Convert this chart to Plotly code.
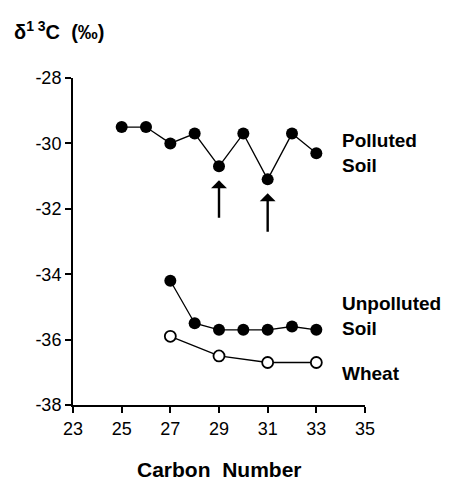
import plotly.graph_objects as go

carbon_polluted = [25, 26, 27, 28, 29, 30, 31, 32, 33]
d13c_polluted = [-29.5, -29.5, -30.0, -29.7, -30.7, -29.7, -31.1, -29.7, -30.3]

carbon_unpolluted = [27, 28, 29, 30, 31, 32, 33]
d13c_unpolluted = [-34.2, -35.5, -35.7, -35.7, -35.7, -35.6, -35.7]

carbon_wheat = [27, 29, 31, 33]
d13c_wheat = [-35.9, -36.5, -36.7, -36.7]

arrow_carbons = [29, 31]
arrow_tails = [53, 54]

x_ticks = [23, 25, 27, 29, 31, 33, 35]
y_ticks = [-38, -36, -34, -32, -30, -28]

FONT = "Liberation Sans, Arial, Helvetica, sans-serif"

fig = go.Figure()
fig.add_trace(go.Scatter(
    x=carbon_polluted, y=d13c_polluted, mode="lines+markers",
    line=dict(color="black", width=1.3),
    marker=dict(size=12, color="black"), showlegend=False))
fig.add_trace(go.Scatter(
    x=carbon_unpolluted, y=d13c_unpolluted, mode="lines+markers",
    line=dict(color="black", width=1.3),
    marker=dict(size=12, color="black"), showlegend=False))
fig.add_trace(go.Scatter(
    x=carbon_wheat, y=d13c_wheat, mode="lines+markers",
    line=dict(color="black", width=1.3),
    marker=dict(size=11, color="white", line=dict(color="black", width=1.8)),
    showlegend=False))

annotations = []
for c, tail in zip(arrow_carbons, arrow_tails):
    v = d13c_polluted[carbon_polluted.index(c)]
    annotations.append(dict(
        x=c, y=v, xref="x", yref="y", text="", showarrow=True,
        ax=0, ay=tail, arrowhead=1, arrowsize=1.1, arrowwidth=2.4,
        arrowcolor="black", standoff=14))

label_font = dict(family=FONT, size=19, color="black", weight="bold")
annotations.append(dict(
    x=carbon_polluted[-1], y=d13c_polluted[-1], xref="x", yref="y",
    text="Polluted<br>Soil", showarrow=False, xanchor="left", yanchor="middle",
    align="left", xshift=24, font=label_font))
annotations.append(dict(
    x=carbon_unpolluted[-1], y=d13c_unpolluted[-1], xref="x", yref="y",
    text="Unpolluted<br>Soil", showarrow=False, xanchor="left", yanchor="middle",
    align="left", xshift=24, yshift=14, font=label_font))
annotations.append(dict(
    x=carbon_wheat[-1], y=d13c_wheat[-1], xref="x", yref="y",
    text="Wheat", showarrow=False, xanchor="left", yanchor="middle",
    align="left", xshift=24, yshift=-11, font=label_font))
# y-axis title placed at top-left (paper coords computed from margins)
annotations.append(dict(
    x=(12 - 73) / 292, y=1 + (78 - 31) / 327, xref="paper", yref="paper",
    text="δ<sup>1 3</sup>C  (‰)", showarrow=False, xanchor="left", yanchor="middle",
    font=dict(size=20, family=FONT, weight="bold")))
# x-axis title
annotations.append(dict(
    x=(219 - 73) / 292, y=-(469 - 405) / 327, xref="paper", yref="paper",
    text="Carbon  Number", showarrow=False, xanchor="center", yanchor="middle",
    font=dict(size=21, family=FONT, weight="bold")))

fig.update_layout(
    width=458, height=480,
    margin=dict(l=73, r=93, t=78, b=75, autoexpand=False),
    paper_bgcolor="white", plot_bgcolor="white",
    font=dict(family=FONT, color="black"),
    annotations=annotations,
    xaxis=dict(
        range=[23, 35], tickvals=x_ticks, ticktext=[str(t) for t in x_ticks],
        showline=True, linecolor="black", linewidth=2, automargin=False,
        ticks="outside", ticklen=6, tickwidth=2, tickcolor="black",
        showgrid=False, zeroline=False,
        tickfont=dict(size=18, family=FONT)),
    yaxis=dict(
        range=[-38, -28], tickvals=y_ticks, ticktext=[str(t) for t in y_ticks],
        showline=True, linecolor="black", linewidth=2, automargin=False,
        ticks="outside", ticklen=6, tickwidth=2, tickcolor="black",
        showgrid=False, zeroline=False,
        tickfont=dict(size=18, family=FONT)),
)

fig.write_html(
    "out.html",
    config={"displayModeBar": False},
    post_script="document.body.style.margin='0';document.body.style.padding='0';",
)
